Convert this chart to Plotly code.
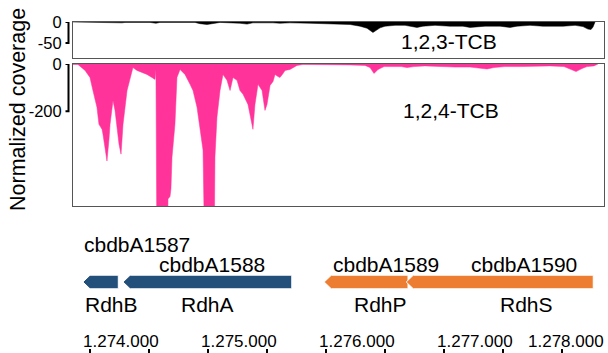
import plotly.graph_objects as go

W, H = 608, 353

# Normalized coverage, 1,2,3-TCB culture (bp position, coverage)
pos_123 = [1273856, 1274085, 1274110, 1274271, 1274297, 1274509, 1274559, 1274593,
           1274890, 1274932, 1274992, 1275042, 1275102, 1275271, 1275331, 1275381,
           1275483, 1275551, 1275610, 1275695, 1275865, 1275949, 1276009, 1276076,
           1276144, 1276204, 1276288, 1276348, 1276398, 1276432, 1276458, 1276500,
           1276585, 1276670, 1276729, 1276771, 1276822, 1276924, 1277051, 1277161,
           1277221, 1277288, 1277348, 1277475, 1277560, 1277619, 1277729, 1277839,
           1277941, 1278009, 1278111, 1278178, 1278220, 1278246, 1278263, 1278280]
cov_123 = [0, -1, -2, -2, -1, -1, -3, -1,
           -1, -4, -6, -4, -1, -3, -5, -2,
           -1, -2, -3, -2, -3, -4, -3, -4,
           -5, -6, -10, -15, -25, -19, -14, -10,
           -8, -8, -11, -13, -10, -8, -10, -10,
           -13, -12, -10, -10, -13, -10, -8, -10,
           -11, -10, -8, -11, -17, -18, -12, 0]

# Normalized coverage, 1,2,4-TCB culture (bp position, coverage)
pos_124 = [1273856, 1273898, 1273958, 1274000, 1274025, 1274059, 1274076, 1274102,
           1274110, 1274127, 1274144, 1274161, 1274170, 1274195, 1274212, 1274229,
           1274246, 1274263, 1274280, 1274314, 1274339, 1274364, 1274398, 1274441,
           1274483, 1274525, 1274551, 1274559, 1274568, 1274593, 1274627, 1274653,
           1274661, 1274678, 1274686, 1274695, 1274720, 1274737, 1274763, 1274805,
           1274848, 1274873, 1274907, 1274932, 1274958, 1274975, 1275017, 1275051,
           1275059, 1275076, 1275102, 1275127, 1275161, 1275187, 1275212, 1275246,
           1275271, 1275297, 1275339, 1275356, 1275381, 1275398, 1275424, 1275458,
           1275483, 1275500, 1275526, 1275551, 1275568, 1275593, 1275610, 1275636,
           1275653, 1275695, 1275754, 1275805, 1275865, 1276034, 1276204, 1276331,
           1276373, 1276407, 1276441, 1276492, 1276585, 1276636, 1276687, 1276746,
           1276839, 1276966, 1277093, 1277221, 1277305, 1277365, 1277424, 1277517,
           1277644, 1277771, 1277899, 1278017, 1278068, 1278119, 1278170, 1278212,
           1278271, 1278305]
cov_124 = [-2, -2, -27, -57, -112, -183, -255, -276,
           -297, -360, -410, -318, -255, -154, -196, -267,
           -339, -381, -255, -112, -57, -15, -27, -36,
           -44, -57, -65, -23, -900, -900, -900, -900,
           -570, -560, -528, -394, -255, -57, -23, -44,
           -86, -112, -183, -267, -364, -900, -900, -900,
           -394, -225, -112, -44, -69, -112, -57, -69,
           -112, -128, -171, -213, -276, -171, -86, -112,
           -196, -171, -91, -74, -44, -53, -57, -40,
           -27, -23, -6, -2, -2, -2, -4, -6,
           -15, -40, -23, -11, -11, -11, -15, -11,
           -8, -11, -13, -13, -19, -21, -15, -11,
           -11, -8, -8, -11, -23, -32, -19, -11,
           -8, 0]

# Genes (all on the minus strand)
gene_ids = ["cbdbA1587", "cbdbA1588", "cbdbA1589", "cbdbA1590"]
gene_names = ["RdhB", "RdhA", "RdhP", "RdhS"]
gene_start = [1273940, 1274280, 1275985, 1276680]
gene_end = [1274240, 1275710, 1276695, 1278265]
gene_colors = ["#23507A", "#23507A", "#ED7D31", "#ED7D31"]
id_label_x = [1273932, 1275034, 1276509, 1277678]
name_label_x = [1274186, 1275000, 1276466, 1277695]

# Genomic coordinate axis
tick_vals = [1274000, 1274500, 1275000, 1275500, 1276000,
             1276500, 1277000, 1277500, 1278000]
label_vals = [1274000, 1275000, 1276000, 1277000, 1278000]
label_text = ["1.274.000", "1.275.000", "1.276.000", "1.277.000", "1.278.000"]

X_RANGE = [1273856, 1278356]
FONT = "Arial, Liberation Sans, sans-serif"

# page layout in pixels
ML, MR, MT, MB = 73, 4, 0, 5
PH = H - MT - MB


def py(p):
    """pixel row -> paper y"""
    return (H - MB - p) / PH


def px(p):
    """pixel column -> paper x"""
    return (p - ML) / (W - ML - MR)


fig = go.Figure()

fig.add_trace(go.Scatter(x=pos_123, y=cov_123, mode="lines", fill="tozeroy",
                         line=dict(color="black", width=0.5), fillcolor="black",
                         xaxis="x", yaxis="y", hoverinfo="skip"))
fig.add_trace(go.Scatter(x=pos_124, y=cov_124, mode="lines", fill="tozeroy",
                         line=dict(color="#FF3399", width=0.5), fillcolor="#FF3399",
                         xaxis="x2", yaxis="y2", hoverinfo="skip"))

# gene arrows (pentagons pointing left)
HEAD = 60
HALF = 6.8
CY = 282
for s, e, c in zip(gene_start, gene_end, gene_colors):
    fig.add_trace(go.Scatter(
        x=[s, s + HEAD, e, e, s + HEAD, s],
        y=[CY, CY - HALF, CY - HALF, CY + HALF, CY + HALF, CY],
        mode="lines", fill="toself", fillcolor=c,
        line=dict(color="white", width=1),
        xaxis="x3", yaxis="y3", hoverinfo="skip"))

box_ax = dict(showline=True, mirror=True, linecolor="#555555", linewidth=1,
              showgrid=False, zeroline=False, automargin=False)

fig.update_layout(
    width=W, height=H,
    margin=dict(l=ML, r=MR, t=MT, b=MB, autoexpand=False),
    paper_bgcolor="white", plot_bgcolor="white",
    showlegend=False,
    font=dict(family=FONT, color="black"),
    xaxis=dict(domain=[0, 1], range=X_RANGE, anchor="y", showticklabels=False,
               ticks="", **box_ax),
    yaxis=dict(domain=[py(58), py(22)], range=[-86, 0], anchor="x",
               tickvals=[0, -50], ticktext=["0", "-50"], ticks="outside",
               ticklen=7, tickcolor="rgba(0,0,0,0)",
               tickfont=dict(size=16.5, family=FONT), **box_ax),
    xaxis2=dict(domain=[0, 1], range=X_RANGE, anchor="y2", showticklabels=False,
                ticks="", **box_ax),
    yaxis2=dict(domain=[py(206), py(64)], range=[-600, 0], anchor="x2",
                tickvals=[0, -200], ticktext=["0", "-200"], ticks="outside",
                ticklen=7, tickcolor="rgba(0,0,0,0)",
                tickfont=dict(size=16.5, family=FONT), **box_ax),
    xaxis3=dict(domain=[0, 1], range=X_RANGE, anchor="y3", showticklabels=False,
                tickvals=tick_vals, ticks="outside", ticklen=5, tickwidth=1.5,
                tickcolor="black", showline=False, showgrid=False, zeroline=False,
                automargin=False),
    yaxis3=dict(domain=[0, py(225)], range=[H - MB, 225], anchor="x3",
                visible=False, automargin=False),
)

# y-axis brackets
bx, t0, t1 = px(68.5), px(65.5), px(69.5)
for yref, ylo in (("y", -50), ("y2", -200)):
    fig.add_shape(type="path", xref="paper", yref=yref,
                  path=f"M {t0},0 L {t1},0 M {bx},0 L {bx},{ylo} M {t0},{ylo} L {t1},{ylo}",
                  line=dict(color="black", width=2))

ann = []
# track labels
ann.append(dict(x=1277042, y=0.45, xref="x", yref="y domain", text="1,2,3-TCB",
                showarrow=False, font=dict(size=21)))
ann.append(dict(x=1277059, y=-198, xref="x2", yref="y2", text="1,2,4-TCB",
                showarrow=False, font=dict(size=21)))
# y title
ann.append(dict(x=px(18), y=py(110), xref="paper", yref="paper",
                xanchor="center", yanchor="middle",
                text="Normalized coverage", textangle=-90, showarrow=False,
                font=dict(size=21.5)))
# gene labels
for i, (gid, gname) in enumerate(zip(gene_ids, gene_names)):
    if i == 0:
        ann.append(dict(x=id_label_x[i], y=244, xref="x3", yref="y3", text=gid,
                        xanchor="left", showarrow=False, font=dict(size=21)))
    else:
        ann.append(dict(x=id_label_x[i], y=264, xref="x3", yref="y3", text=gid,
                        showarrow=False, font=dict(size=21)))
    ann.append(dict(x=name_label_x[i], y=304, xref="x3", yref="y3", text=gname,
                    showarrow=False, font=dict(size=21)))
# coordinate labels
for v, t in zip(label_vals, label_text):
    if v == label_vals[-1]:
        ann.append(dict(x=1.003, y=341, xref="paper", yref="y3", text=t,
                        xanchor="right", showarrow=False, font=dict(size=17)))
    else:
        ann.append(dict(x=v - 80, y=341, xref="x3", yref="y3", text=t,
                        xanchor="left", showarrow=False, font=dict(size=17)))
fig.update_layout(annotations=ann)

fig.write_html("out.html")
